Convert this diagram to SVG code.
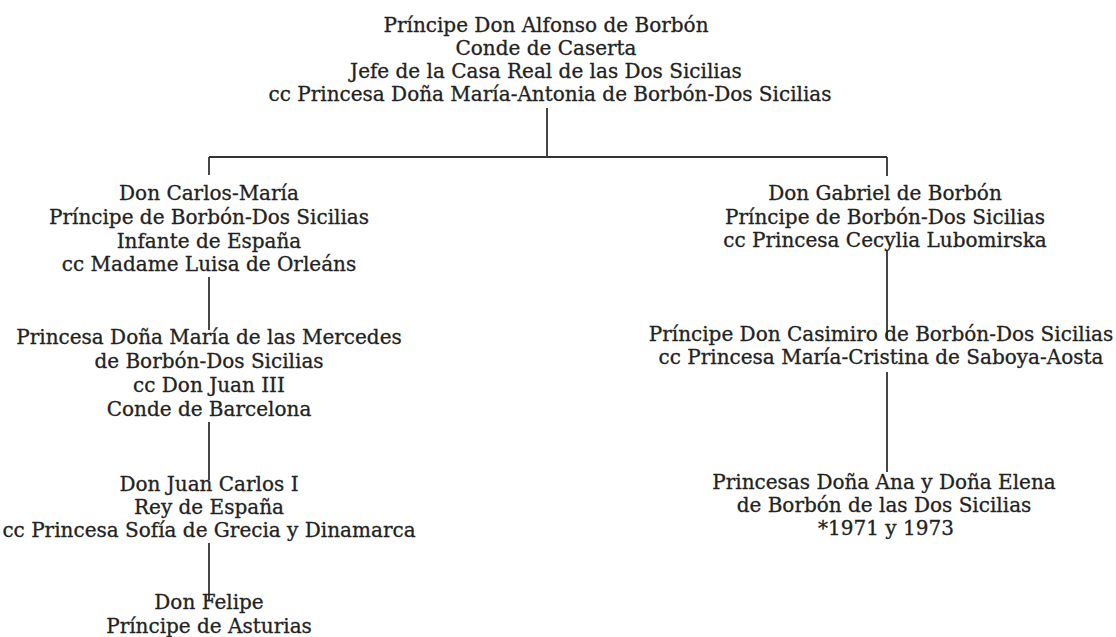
<svg xmlns="http://www.w3.org/2000/svg" width="1116" height="637" viewBox="0 0 1116 637">
<style>
text{font-family:"DejaVu Serif","Liberation Serif",serif;font-size:20px;fill:#222;stroke:#222;stroke-width:0.3;text-anchor:middle}
.c line{stroke:#333;stroke-width:1.8}
</style>
<rect width="1116" height="637" fill="#fff"/>
<g id="connectors" class="c">
<line x1="547" y1="108" x2="547" y2="157"/>
<line x1="209" y1="157" x2="887" y2="157"/>
<line x1="209" y1="157" x2="209" y2="175"/>
<line x1="887" y1="157" x2="887" y2="176"/>
<line x1="209" y1="277" x2="209" y2="330"/>
<line x1="209" y1="422" x2="209" y2="480"/>
<line x1="209" y1="543" x2="209" y2="600"/>
<line x1="887" y1="250" x2="887" y2="338"/>
<line x1="887" y1="372" x2="887" y2="472"/>
</g>
<g id="alfonso">
<text x="546" y="32">Príncipe Don Alfonso de Borbón</text>
<text x="546" y="55">Conde de Caserta</text>
<text x="546" y="78">Jefe de la Casa Real de las Dos Sicilias</text>
<text x="550" y="101">cc Princesa Doña María-Antonia de Borbón-Dos Sicilias</text>
</g>
<g id="carlos">
<text x="209" y="200">Don Carlos-María</text>
<text x="209" y="224">Príncipe de Borbón-Dos Sicilias</text>
<text x="209" y="248">Infante de España</text>
<text x="209" y="271">cc Madame Luisa de Orleáns</text>
</g>
<g id="mercedes">
<text x="209" y="344">Princesa Doña María de las Mercedes</text>
<text x="209" y="368">de Borbón-Dos Sicilias</text>
<text x="209" y="392">cc Don Juan III</text>
<text x="209" y="416">Conde de Barcelona</text>
</g>
<g id="juancarlos">
<text x="209" y="491">Don Juan Carlos I</text>
<text x="209" y="514">Rey de España</text>
<text x="209" y="537">cc Princesa Sofía de Grecia y Dinamarca</text>
</g>
<g id="felipe">
<text x="209" y="609">Don Felipe</text>
<text x="209" y="633">Príncipe de Asturias</text>
</g>
<g id="gabriel">
<text x="885" y="200">Don Gabriel de Borbón</text>
<text x="885" y="224">Príncipe de Borbón-Dos Sicilias</text>
<text x="885" y="247">cc Princesa Cecylia Lubomirska</text>
</g>
<g id="casimiro">
<text x="881" y="341">Príncipe Don Casimiro de Borbón-Dos Sicilias</text>
<text x="881" y="364">cc Princesa María-Cristina de Saboya-Aosta</text>
</g>
<g id="princesas">
<text x="884" y="489">Princesas Doña Ana y Doña Elena</text>
<text x="884" y="512">de Borbón de las Dos Sicilias</text>
<text x="886" y="535">*1971 y 1973</text>
</g>
</svg>
